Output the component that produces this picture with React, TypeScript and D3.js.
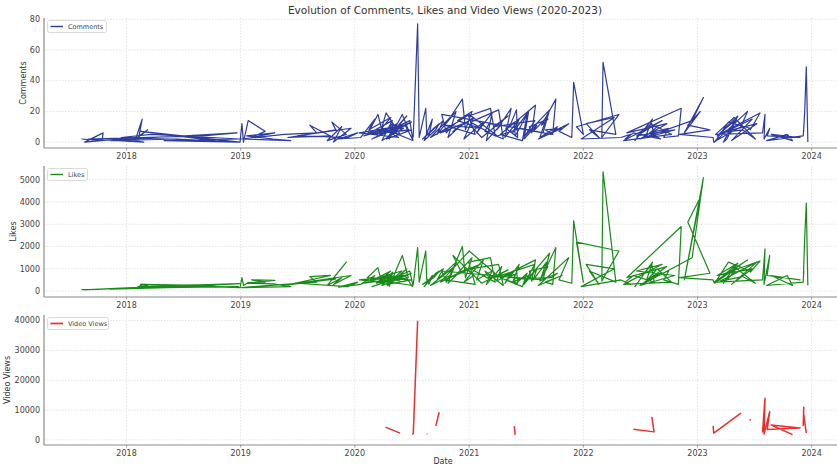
import React from 'react';
import * as d3 from 'd3';

const N = null;

// rows in the order they appear in the source table (not sorted by date)
const dates = [
  "2017-08-10","2017-10-15","2017-10-18","2017-08-20","2018-02-01","2018-02-20","2018-02-10","2018-03-10","2018-01-25","2018-02-25",
  "2017-09-01","2018-09-01","2018-12-20","2018-04-01","2017-11-10","2018-06-10","2018-12-25","2018-05-01","2018-12-28","2018-03-20",
  "2017-12-15","2018-10-10","2018-02-15","2018-12-30","2019-01-05","2019-01-10","2019-01-25","2019-03-20","2019-02-05","2019-04-20",
  "2019-01-20","2019-04-15","2019-06-10","2019-01-03","2019-05-20","2019-09-01","2019-08-10","2019-10-15","2019-06-01","2019-11-01",
  "2019-10-20","2019-12-05","2019-10-05","2019-11-20","2019-10-25","2019-12-20","2019-07-01","2019-12-10","2020-01-10","2019-11-10",
  "2020-01-20","2020-03-05","2020-02-15","2020-04-25","2020-03-10","2020-05-15","2020-04-15","2020-06-15","2020-05-05","2020-06-30",
  "2020-02-25","2020-05-10","2020-01-30","2020-04-30","2020-03-28","2020-06-05","2020-02-20","2020-05-30","2020-04-12","2020-07-01",
  "2020-02-10","2020-03-15","2020-03-25","2020-04-08","2020-05-25","2020-04-10","2020-03-20","2020-05-01","2020-04-20","2020-06-01",
  "2020-06-20","2020-04-05","2020-06-25","2020-07-05","2020-03-30","2020-05-20","2020-01-15","2020-06-10","2020-07-03","2020-07-06",
  "2020-07-20","2020-07-25","2020-08-15","2020-08-18","2020-08-20","2020-08-25","2020-09-05","2020-08-10","2020-09-16","2020-09-27",
  "2020-09-10","2020-08-05","2020-10-10","2020-09-20","2020-11-20","2020-10-25","2020-12-05","2020-11-10","2021-01-15","2020-12-15",
  "2021-02-15","2021-01-25","2021-03-15","2021-02-25","2021-04-15","2021-03-30","2021-05-15","2021-04-25","2021-06-10","2021-05-20",
  "2021-07-10","2021-06-25","2021-08-05","2021-07-25","2021-09-05","2021-08-15","2021-10-10","2021-09-20","2021-06-15","2021-04-01",
  "2021-01-01","2020-10-01","2020-12-25","2021-02-10","2021-05-05","2021-03-20","2021-07-30","2021-06-28","2021-09-15","2021-08-25",
  "2020-10-05","2020-10-20","2020-11-15","2020-08-30","2020-11-01","2020-12-10","2020-12-20","2021-01-10","2020-11-25","2021-02-05",
  "2020-10-15","2021-01-20","2020-12-30","2021-03-10","2021-03-25","2021-01-05","2021-04-05","2021-04-20","2021-02-20","2021-03-05",
  "2021-05-10","2021-06-01","2021-06-05","2021-04-28","2021-05-25","2021-05-28","2021-07-05","2021-06-20","2021-04-10","2021-08-01",
  "2021-07-20","2021-07-12","2021-09-10","2021-08-20","2021-10-05","2021-09-25","2021-09-01","2021-10-25","2021-08-10","2021-11-15",
  "2021-10-15","2021-11-25","2021-12-01","2022-01-01","2021-12-10","2022-04-25","2022-03-01","2022-03-05","2022-04-15","2022-01-20",
  "2022-02-20","2022-01-10","2022-04-10","2021-12-25","2022-05-01","2022-06-01","2022-05-15","2022-06-10","2022-08-15","2022-08-08",
  "2022-07-10","2022-06-15","2022-08-10","2022-07-20","2022-09-05","2022-08-01","2022-10-01","2022-09-15","2022-11-01","2022-11-10",
  "2022-05-20","2022-09-25","2022-07-01","2022-10-20","2022-06-20","2022-09-10","2022-05-10","2022-10-10","2022-08-25","2022-07-15",
  "2022-12-15","2023-01-20","2022-11-20","2023-01-10","2022-12-01","2023-02-10","2022-11-05","2023-02-20","2023-02-22","2023-05-20",
  "2023-06-10","2023-02-25","2023-04-10","2023-06-18","2023-06-19","2023-07-20","2023-03-10","2023-05-01","2023-03-25","2023-04-05",
  "2023-05-10","2023-03-05","2023-06-25","2023-04-20","2023-07-10","2023-03-15","2023-05-25","2023-07-05","2023-04-28","2023-02-28",
  "2023-07-28","2023-08-05","2023-08-02","2023-08-20","2023-08-12","2023-11-25","2023-08-25","2023-11-01","2023-10-15","2023-08-10",
  "2023-12-05","2023-12-07","2023-12-06","2023-12-10","2023-12-15","2023-12-20",
];

const comments = [
  2,1,6,0,3,15,4,8,1,0,
  2,4,6,3,1,2,0,1,2,5,
  3,1,7,0,12,0,14,7,3,6,
  4,2,1,2,5,6,11,4,3,8,
  13,5,1,10,0,9,4,3,6,2,
  3,15,8,16,5,12,3,17,7,13,
  2,10,4,14,1,9,6,11,2,8,
  5,18,10,7,5,19,4,12,2,18,
  8,6,14,1,9,3,6,11,2,4,
  77,3,22,5,6,4,15,1,8,12,
  9,2,14,5,20,3,11,7,16,2,
  13,6,19,1,12,8,22,3,15,6,
  20,2,11,7,16,3,10,5,9,4,
  18,6,13,3,17,10,14,4,21,6,
  18,6,12,3,16,28,8,20,14,9,
  11,5,17,22,4,13,21,2,7,12,
  10,21,3,9,13,4,18,1,5,24,
  6,10,15,11,28,5,8,9,2,12,
  7,3,39,5,10,18,3,52,5,8,
  3,12,16,2,3,5,2,6,3,12,
  8,1,15,4,2,6,9,3,4,22,
  6,12,2,8,4,14,1,5,10,3,
  14,29,6,20,11,8,5,3,0,10,
  20,0,13,9,8,19,5,14,0,2,
  17,4,15,1,12,6,8,2,16,5,
  6,18,2,9,4,3,5,1,5,1,
  4,8,6,20,49,0,
];

const likes = [
  60,70,90,55,150,280,200,250,120,180,
  65,250,320,190,90,160,200,150,330,210,
  110,240,300,150,600,250,380,400,500,480,
  350,320,200,150,300,400,650,700,280,550,
  500,1300,250,600,300,700,350,200,400,180,
  300,700,400,900,350,600,250,1000,450,800,
  200,550,350,750,250,650,500,900,300,500,
  600,1050,500,600,450,700,300,850,200,1600,
  600,400,900,250,450,350,500,700,200,300,
  1950,400,1800,500,520,300,700,200,800,900,
  600,300,1000,500,1300,350,900,1600,700,400,
  1400,500,900,300,1100,450,800,350,1200,400,
  700,300,1000,500,1300,450,800,600,550,700,
  1800,400,1000,350,950,600,1200,400,1700,500,
  900,400,1100,250,700,2000,600,1500,800,1200,
  500,300,1300,1500,400,1000,1200,250,900,600,
  700,1000,350,500,750,300,800,200,600,1400,
  450,900,1100,600,1950,300,400,700,250,1500,
  500,350,3150,400,2200,1800,450,5350,400,900,
  300,1200,1000,200,500,300,400,700,400,1200,
  700,200,1300,400,800,600,900,500,300,2900,
  600,1100,250,700,900,1200,300,400,1000,350,
  1500,5100,500,4200,3100,800,600,500,400,1200,
  1400,350,1300,900,850,1350,700,900,350,600,
  1250,700,1000,300,1300,450,650,350,1100,400,
  500,1900,300,1600,700,500,700,250,700,250,
  400,900,800,2400,3950,250,
];

const views = [
  N,N,N,N,N,N,N,N,N,N,
  N,N,N,N,N,N,N,N,N,N,
  N,N,N,N,N,N,N,N,N,N,
  N,N,N,N,N,N,N,N,N,N,
  N,N,N,N,N,N,N,N,N,N,
  N,N,N,N,N,N,N,N,N,N,
  N,N,N,N,N,N,N,N,N,N,
  N,N,N,4300,2300,N,N,N,N,N,
  N,N,N,N,N,N,N,N,1900,2100,
  40000,N,N,2100,1900,N,N,N,4700,9300,
  N,N,N,N,N,N,N,N,N,N,
  N,N,N,N,N,N,N,N,N,N,
  N,N,N,N,N,N,N,N,N,N,
  N,N,N,N,N,N,N,N,N,N,
  N,N,N,N,N,N,N,N,N,N,
  N,N,N,N,N,N,N,N,N,N,
  N,N,N,N,4600,1700,N,N,N,N,
  N,N,N,N,N,N,N,N,N,N,
  N,N,N,N,N,N,N,N,N,N,
  N,N,N,N,N,N,N,3600,2700,7700,
  N,N,N,N,N,N,N,N,N,N,
  N,N,N,N,N,N,N,N,N,N,
  N,N,N,N,N,N,N,4700,2300,9000,
  N,N,N,6500,7000,N,N,N,N,N,
  N,N,N,N,N,N,N,N,N,N,
  2500,14000,2000,9500,3500,4000,5000,1800,N,N,
  4700,11000,9300,6000,2300,N,
];

const yearTicks = [2018, 2019, 2020, 2021, 2022, 2023, 2024];
const commentTicks = [0, 20, 40, 60, 80];
const likeTicks = [0, 1000, 2000, 3000, 4000, 5000];
const viewTicks = [0, 10000, 20000, 30000, 40000];

const W = 837, H = 468;
const LEFT = 44, RIGHT = 846;
const FONT = 'DejaVu Sans, sans-serif';

const parse = d3.timeParse('%Y-%m-%d');
const x = d3.scaleTime()
  .domain([parse('2017-04-12')!, parse('2024-04-20')!])
  .range([LEFT, RIGHT]);

function Panel({ top, bottom, yDomain, ticks, values, color, width, label, labelX, legendW }) {
  const y = d3.scaleLinear().domain(yDomain).range([bottom, top]);
  const pts = dates.map((d, i) => ({ d: parse(d)!, v: values[i] }));
  const line = d3.line<any>()
    .defined(p => p.v !== null && p.v !== undefined)
    .x(p => x(p.d))
    .y(p => y(p.v));
  const mid = (top + bottom) / 2;
  return (
    <g>
      {yearTicks.map(t => (
        <line key={'gx' + t} x1={x(new Date(t, 0, 1))} x2={x(new Date(t, 0, 1))} y1={top} y2={bottom}
          stroke="#dcdcdc" strokeWidth={0.8} strokeDasharray="1.5,1.5" />
      ))}
      {ticks.map(t => (
        <line key={'gy' + t} x1={LEFT} x2={RIGHT} y1={y(t)} y2={y(t)}
          stroke="#dcdcdc" strokeWidth={0.8} strokeDasharray="1.5,1.5" />
      ))}
      <path d={line(pts) || ''} fill="none" stroke={color} strokeWidth={width} strokeLinejoin="round" />
      <line x1={LEFT} x2={LEFT} y1={top} y2={bottom} stroke="#8a8a8a" strokeWidth={1.2} />
      <line x1={LEFT} x2={RIGHT} y1={bottom} y2={bottom} stroke="#8a8a8a" strokeWidth={1.2} />
      {yearTicks.map(t => (
        <g key={'xt' + t}>
          <line x1={x(new Date(t, 0, 1))} x2={x(new Date(t, 0, 1))} y1={bottom} y2={bottom + 2.5} stroke="#8a8a8a" strokeWidth={0.8} />
          <text x={x(new Date(t, 0, 1))} y={bottom + 10.5} textAnchor="middle" fontSize={8} fill="#444">{t}</text>
        </g>
      ))}
      {ticks.map(t => (
        <text key={'yt' + t} x={LEFT - 4} y={y(t)} dy="0.35em" textAnchor="end" fontSize={8} fill="#444">{t}</text>
      ))}
      <text transform={`translate(${labelX},${mid}) rotate(-90)`} textAnchor="middle" fontSize={8} fill="#333">{label}</text>
      <rect x={47.5} y={top + 2.5} width={legendW} height={12} rx={2} fill="#fff" fillOpacity={0.85} stroke="#d0d0d0" strokeWidth={0.8} />
      <line x1={50.5} x2={63} y1={top + 8.5} y2={top + 8.5} stroke={color} strokeWidth={width + 0.2} />
      <text x={68} y={top + 8.5} dy="0.35em" fontSize={6.5} fill="#444">{label}</text>
    </g>
  );
}

export default function App() {
  return (
    <svg width={W} height={H} style={{ position: 'absolute', left: 0, top: 0, background: '#fff' }} fontFamily={FONT}>
      <text x={445} y={14} textAnchor="middle" fontSize={10.5} fill="#333">
        Evolution of Comments, Likes and Video Views (2020-2023)
      </text>
      <Panel top={18} bottom={148} yDomain={[-3.85, 80.85]} ticks={commentTicks} values={comments}
        color="#2e3c9e" width={1.2} label="Comments" labelX={26} legendW={59} />
      <Panel top={166} bottom={297} yDomain={[-267, 5617]} ticks={likeTicks} values={likes}
        color="#1a8a1a" width={1.2} label="Likes" labelX={16} legendW={40} />
      <Panel top={315} bottom={445} yDomain={[-1700, 41900]} ticks={viewTicks} values={views}
        color="#e8302e" width={1.5} label="Video Views" labelX={10} legendW={61} />
      <text x={443} y={464} textAnchor="middle" fontSize={8} fill="#333">Date</text>
    </svg>
  );
}
